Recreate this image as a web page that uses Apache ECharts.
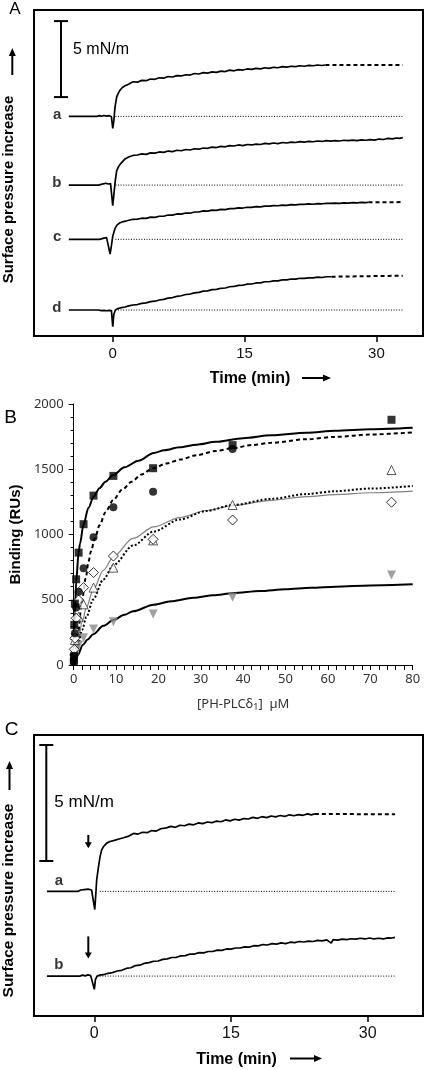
<!DOCTYPE html>
<html><head><meta charset="utf-8">
<script src="https://cdn.jsdelivr.net/npm/echarts@6/dist/echarts.min.js"></script>
<style>html,body{margin:0;padding:0;background:#fff}#c{width:425px;height:1070px}</style>
</head><body><div id="c"></div>
<script>
// ===================== DATA =====================
// Panel A / C shared
const timeTicks = [0, 15, 30];
const traceLabelsA = ['a', 'b', 'c', 'd'];
const traceLabelsC = ['a', 'b'];
const scaleBarValue = 5; // mN/m

// Panel A traces: [time (min), surface pressure increase (mN/m)]
const traceA_a = [[-5,0],[-1.8,0],[-1.5,0.05],[-1.25,0.01],[-1.0,0.06],[-0.7,0.02],[-0.4,0.05],[-0.15,-0.03],[0,-0.79],[0.12,-0.3],[0.26,0.63],[0.45,1.29],[0.65,1.55],[0.83,1.73],[1.1,1.9],[1.4,2.01],[1.8,2.12],[2.3,2.28],[2.8,2.25],[3.3,2.37],[3.8,2.35],[4.3,2.46],[4.8,2.44],[5.3,2.54],[5.8,2.52],[6.3,2.62],[6.8,2.59],[7.3,2.68],[7.8,2.66],[8.3,2.74],[8.8,2.72],[9.3,2.82],[9.8,2.79],[10.3,2.88],[10.8,2.85],[11.3,2.93],[11.8,2.9],[12.3,2.98],[12.8,2.95],[13.3,3.04],[13.8,3.0],[14.3,3.08],[14.8,3.05],[15.3,3.12],[15.8,3.09],[16.3,3.16],[16.8,3.13],[17.3,3.2],[17.8,3.16],[18.3,3.23],[18.8,3.2],[19.3,3.27],[19.8,3.24],[20.3,3.3],[20.8,3.27],[21.3,3.33],[21.8,3.3],[22.3,3.36],[22.8,3.33],[23.3,3.38],[23.8,3.35],[24.2,3.38]];
const traceA_b = [[-5,0],[-1.6,0],[-1.4,0.1],[-1.1,0.08],[-0.8,0.12],[-0.5,0.07],[-0.25,0.1],[-0.1,0.02],[0,-1.36],[0.15,-0.5],[0.3,0.35],[0.45,0.95],[0.65,1.2],[0.85,1.38],[1.05,1.45],[1.4,1.72],[1.8,1.85],[2.3,1.95],[2.8,1.98],[3.3,2.05],[3.8,2.02],[4.3,2.12],[4.8,2.1],[5.3,2.18],[5.8,2.15],[6.3,2.24],[6.8,2.2],[7.3,2.29],[7.8,2.26],[8.3,2.34],[8.8,2.31],[9.3,2.39],[9.8,2.36],[10.3,2.44],[10.8,2.42],[11.3,2.5],[11.8,2.47],[12.3,2.55],[12.8,2.52],[13.3,2.6],[13.8,2.57],[14.3,2.64],[14.8,2.6],[15.3,2.67],[15.8,2.64],[16.3,2.7],[16.8,2.67],[17.3,2.74],[17.8,2.71],[18.3,2.77],[18.8,2.73],[19.3,2.8],[19.8,2.77],[20.3,2.83],[20.8,2.8],[21.3,2.86],[21.8,2.83],[22.3,2.88],[22.8,2.85],[23.3,2.9],[23.8,2.87],[24.3,2.92],[24.8,2.89],[25.3,2.93],[25.8,2.9],[26.3,2.95],[26.8,2.92],[27.3,2.96],[27.8,2.93],[28.3,2.97],[28.8,2.95],[29.3,2.99],[29.8,2.96],[30.3,3.03],[30.8,3.0],[31.3,3.07],[31.8,3.04],[32.3,3.1],[32.6,3.07],[33,3.12]];
const traceA_c = [[-5,0],[-1.5,0],[-1.3,0.1],[-1.0,0.08],[-0.7,0.11],[-0.5,0.05],[-0.3,-0.97],[-0.15,-0.4],[0,0.2],[0.26,0.72],[0.5,0.95],[0.83,1.09],[1.2,1.17],[1.6,1.22],[2.3,1.32],[2.8,1.33],[3.3,1.39],[3.8,1.38],[4.3,1.46],[4.8,1.45],[5.3,1.52],[5.8,1.52],[6.3,1.6],[6.8,1.59],[7.3,1.67],[7.8,1.66],[8.3,1.73],[8.8,1.72],[9.3,1.8],[9.8,1.8],[10.3,1.87],[10.8,1.86],[11.3,1.92],[11.8,1.91],[12.3,1.97],[12.8,1.96],[13.3,2.02],[13.8,2.02],[14.3,2.07],[14.8,2.06],[15.3,2.11],[15.8,2.1],[16.3,2.15],[16.8,2.14],[17.3,2.19],[17.8,2.18],[18.3,2.22],[18.8,2.21],[19.3,2.25],[19.8,2.24],[20.3,2.28],[20.8,2.27],[21.3,2.3],[21.8,2.3],[22.3,2.33],[22.8,2.31],[23.3,2.35],[23.8,2.34],[24.3,2.37],[24.8,2.36],[25.3,2.38],[25.8,2.37],[26.3,2.4],[26.8,2.38],[27.3,2.41],[27.8,2.4],[28.3,2.43],[28.8,2.42],[29.1,2.44]];
const traceA_d = [[-5,0],[-1.6,0],[-1.3,-0.04],[-1.0,-0.02],[-0.7,-0.05],[-0.4,-0.02],[-0.15,-0.04],[0,-1.1],[0.12,-0.3],[0.3,0.0],[0.6,0.1],[1.0,0.16],[1.4,0.2],[1.8,0.27],[2.3,0.33],[2.8,0.36],[3.3,0.44],[3.8,0.47],[4.3,0.55],[4.8,0.58],[5.3,0.66],[5.8,0.7],[6.3,0.78],[6.8,0.82],[7.3,0.9],[7.8,0.94],[8.3,1.02],[8.8,1.05],[9.3,1.13],[9.8,1.16],[10.3,1.24],[10.8,1.26],[11.3,1.34],[11.8,1.36],[12.3,1.43],[12.8,1.45],[13.3,1.53],[13.8,1.55],[14.3,1.62],[14.8,1.63],[15.3,1.7],[15.8,1.71],[16.3,1.78],[16.8,1.79],[17.3,1.86],[17.8,1.86],[18.3,1.92],[18.8,1.92],[19.3,1.98],[19.8,1.98],[20.3,2.04],[20.8,2.03],[21.3,2.09],[21.8,2.08],[22.3,2.12],[22.8,2.11],[23.3,2.16],[23.8,2.14],[24.3,2.19],[24.9,2.19]];
// extrapolated (dashed) ends
const extA_a = [[24.2,3.38],[33,3.38]];
const extA_c = [[29.1,2.44],[33,2.45]];
const extA_d = [[24.9,2.19],[33,2.26]];
const baselineA = [[0.3,0],[33,0]];

// Panel C traces
const traceC_a = [[-5.2,0],[-1.8,0],[-1.5,0.06],[-1.3,0.02],[-1.1,0.08],[-0.9,0.05],[-0.7,0.1],[-0.5,0.04],[-0.3,0.06],[-0.1,0.0],[0.05,-0.78],[0.15,-0.2],[0.26,0.5],[0.45,1.05],[0.63,1.5],[0.8,1.78],[1.0,1.93],[1.36,2.08],[1.72,2.15],[2.2,2.2],[2.7,2.26],[3.2,2.31],[3.7,2.37],[4.3,2.5],[4.8,2.47],[5.3,2.55],[5.8,2.53],[6.3,2.62],[6.8,2.6],[7.3,2.7],[7.9,2.74],[8.4,2.8],[8.9,2.76],[9.4,2.85],[9.9,2.83],[10.4,2.9],[10.9,2.87],[11.4,2.95],[11.9,2.92],[12.4,2.99],[12.9,2.96],[13.4,3.03],[13.9,3.0],[14.4,3.08],[14.9,3.04],[15.4,3.11],[15.9,3.07],[16.4,3.14],[16.9,3.12],[17.4,3.19],[17.9,3.15],[18.4,3.22],[18.9,3.18],[19.4,3.25],[19.9,3.21],[20.4,3.27],[20.9,3.23],[21.4,3.3],[21.9,3.26],[22.4,3.31],[22.9,3.28],[23.4,3.34],[23.8,3.3],[24.2,3.34]];
const traceC_b = [[-5.2,0],[-1.6,0],[-1.3,0.04],[-1.0,0.01],[-0.7,0.05],[-0.4,0.02],[-0.2,0.03],[0,-0.57],[0.12,-0.15],[0.3,0.0],[0.6,0.04],[1.0,0.06],[1.5,0.12],[2.0,0.15],[2.5,0.22],[3.0,0.25],[3.5,0.33],[4.0,0.36],[4.5,0.45],[5.0,0.47],[5.5,0.55],[6.0,0.58],[6.5,0.64],[7.0,0.65],[7.5,0.72],[8.0,0.74],[8.5,0.8],[9.0,0.81],[9.5,0.87],[10.0,0.88],[10.5,0.95],[11.0,0.95],[11.5,1.01],[12.0,1.0],[12.5,1.06],[13.0,1.06],[13.5,1.12],[14.0,1.11],[14.5,1.17],[15.0,1.16],[15.5,1.21],[16.0,1.21],[16.5,1.26],[17.0,1.25],[17.5,1.31],[18.0,1.3],[18.5,1.36],[19.0,1.34],[19.5,1.4],[20.0,1.38],[20.5,1.43],[21.0,1.4],[21.5,1.46],[22.0,1.44],[22.5,1.49],[23.0,1.47],[23.5,1.51],[24.0,1.49],[24.5,1.54],[25.0,1.52],[25.5,1.56],[26.0,1.42],[26.2,1.57],[26.7,1.55],[27.2,1.59],[27.7,1.57],[28.2,1.61],[28.7,1.59],[29.2,1.63],[29.7,1.6],[30.2,1.64],[30.7,1.6],[31.2,1.63],[31.7,1.6],[32.2,1.65],[32.6,1.64],[33,1.67]];
const extC_a = [[24.2,3.34],[33,3.32]];
const baselineC = [[0.6,0],[33,0]];
const injectionTimeC = -0.66;

// Panel B: binding (RUs) vs [PH-PLCd1] (uM)
const squaresB = [[0.0366,25],[0.073,64],[0.146,307],[0.293,470],[0.586,657],[1.17,861],[2.34,1079],[4.69,1298],[9.375,1449],[18.75,1508],[37.5,1685],[75,1879]];
const circlesB = [[0.073,25],[0.146,70],[0.293,243],[0.586,440],[1.17,562],[2.34,741],[4.69,979],[9.375,1208],[18.75,1328],[37.5,1655]];
const diamondsB = [[0.146,120],[0.293,205],[0.586,358],[1.17,498],[2.34,593],[4.69,708],[9.375,835],[18.75,963],[37.5,1111],[75,1247]];
const trianglesB = [[0.146,110],[0.293,192],[0.586,268],[1.17,370],[2.34,465],[4.69,593],[9.375,746],[18.75,955],[37.5,1226],[75,1494]];
const grayTrianglesB = [[0.146,60],[0.293,90],[0.586,110],[1.17,153],[2.34,209],[4.69,276],[9.375,332],[18.75,391],[37.5,519],[75,690]];
// fitted curves
const fitSquaresB = [[0,0],[0.15,220],[0.3,400],[0.6,640],[1.17,861],[1.5,930],[2.3,1073],[3.5,1205],[4.7,1290],[6.1,1355],[7.5,1405],[9.33,1455],[12,1515],[15.3,1565],[18.9,1625],[21.4,1645],[25,1668],[29,1688],[33.6,1710],[40,1738],[46.6,1760],[55,1780],[61.8,1795],[70,1807],[80,1818]];
const fitCirclesB = [[0,0],[0.5,120],[1,240],[2,500],[2.84,664],[3.5,790],[4.07,870],[5,970],[6.1,1070],[7.5,1170],[9.33,1264],[11.5,1345],[13.7,1405],[16,1460],[18.7,1507],[22,1545],[25.2,1575],[29,1608],[33.6,1640],[37.6,1662],[42,1685],[46.6,1703],[55,1730],[61.8,1748],[70,1766],[80,1783]];
const fitDiamondsB = [[0,0],[0.5,95],[1,181],[2,330],[3,440],[4.6,575],[7,725],[9.4,831],[14,970],[18.9,1058],[25,1130],[31.3,1184],[37.6,1222],[46.6,1262],[55,1290],[61.8,1306],[70,1320],[80,1333]];
const fitTrianglesB = [[0,0],[0.5,77],[1,147],[2,268],[3,368],[4.6,502],[7,655],[9.4,765],[14,915],[18.9,1023],[25,1115],[31.3,1180],[37.6,1226],[46.6,1273],[55,1310],[61.8,1332],[70,1352],[80,1372]];
const fitGrayB = [[0,0],[0.5,38],[1,77],[2.15,153],[3.3,195],[4.6,235],[7,300],[9.4,345],[12,385],[14,412],[18.9,462],[23,488],[28.3,515],[33,535],[37.6,550],[44,567],[50,580],[56,591],[61.8,600],[70,610],[80,618]];

// ===================== LAYOUT (positions / styles) =====================
const FONT = 'Liberation Sans, Arial, sans-serif';
const FONTB = 'Noto Sans, Open Sans, sans-serif';
const offsetsA = [14.45, 9.93, 6.36, 1.71];   // vertical stacking of traces in A (mN/m)
const offsetsC = [5.37, 1.72];                // vertical stacking in C

const chart = echarts.init(document.getElementById('c'), null, {renderer: 'canvas'});

function shift(arr, off) { return arr.map(p => [p[0], p[1] + off]); }
function traceSeries(data, off, ai) {
  return {type: 'line', xAxisIndex: ai, yAxisIndex: ai, data: shift(data, off), symbol: 'none',
    lineStyle: {color: '#000', width: 1.7}, silent: true, z: 3};
}
function extSeries(data, off, ai) {
  return {type: 'line', xAxisIndex: ai, yAxisIndex: ai, data: shift(data, off), symbol: 'none',
    lineStyle: {color: '#000', width: 2, type: [4, 3]}, silent: true, z: 3};
}
function baseSeries(data, off, ai) {
  return {type: 'line', xAxisIndex: ai, yAxisIndex: ai, data: shift(data, off), symbol: 'none',
    lineStyle: {color: '#000', width: 1, type: [1, 1.6]}, silent: true, z: 2};
}
function scaleBar(ai, x, y0, len, cap, ldx, ldy, fs) {
  return {type: 'custom', xAxisIndex: ai, yAxisIndex: ai, data: [[x, y0, len]], silent: true, z: 4,
    renderItem: function (params, api) {
      const p1 = api.coord([api.value(0), api.value(1)]);
      const p2 = api.coord([api.value(0), api.value(1) + api.value(2)]);
      const st = {stroke: '#000', lineWidth: 2};
      return {type: 'group', children: [
        {type: 'line', shape: {x1: p1[0], y1: p1[1], x2: p2[0], y2: p2[1]}, style: st},
        {type: 'line', shape: {x1: p1[0] - cap, y1: p1[1], x2: p1[0] + cap, y2: p1[1]}, style: st},
        {type: 'line', shape: {x1: p2[0] - cap, y1: p2[1], x2: p2[0] + cap, y2: p2[1]}, style: st},
        {type: 'text', x: p2[0] + ldx, y: p2[1] + ldy, style: {text: api.value(2) + ' mN/m', fontSize: fs,
          fontFamily: FONT, fill: '#000', align: 'left', verticalAlign: 'middle'}}
      ]};
    }};
}
function downArrows(ai, data) {
  return {type: 'custom', xAxisIndex: ai, yAxisIndex: ai, data: data, silent: true, z: 4,
    renderItem: function (params, api) {
      const a = api.coord([api.value(0), api.value(1)]);
      const b = api.coord([api.value(0), api.value(2)]);
      return {type: 'group', children: [
        {type: 'line', shape: {x1: a[0], y1: a[1], x2: b[0], y2: b[1] - 5}, style: {stroke: '#000', lineWidth: 2}},
        {type: 'polygon', shape: {points: [[b[0] - 3.5, b[1] - 6], [b[0] + 3.5, b[1] - 6], [b[0], b[1]]]}, style: {fill: '#000'}}
      ]};
    }};
}
function labelSeries(ai, names, t, offs, pos, dist, offset) {
  return {type: 'scatter', xAxisIndex: ai, yAxisIndex: ai, symbolSize: 1, silent: true, z: 5,
    itemStyle: {color: 'transparent'},
    data: names.map((n, i) => ({name: n, value: [t, offs[i]]})),
    label: {show: true, formatter: '{b}', position: pos, distance: dist, offset: offset,
      fontWeight: 'bold', fontSize: 15, color: '#000', fontFamily: FONT}};
}

function timeAxis(gi, min, max, fs) {
  return {gridIndex: gi, type: 'value', min: min, max: max,
    axisLine: {show: true, onZero: false, lineStyle: {color: '#000', width: 2}},
    axisTick: {show: true, customValues: timeTicks, length: 6, lineStyle: {color: '#000', width: 1.5}},
    axisLabel: {customValues: timeTicks, fontSize: fs, color: '#111', margin: 10, fontFamily: FONT},
    splitLine: {show: false}};
}

function hArrow(x1, x2, y) {
  return [
    {type: 'line', shape: {x1: x1, y1: y, x2: x2 - 6, y2: y}, style: {stroke: '#000', lineWidth: 2}},
    {type: 'polygon', shape: {points: [[x2 - 8, y - 3.5], [x2 - 8, y + 3.5], [x2, y]]}, style: {fill: '#000'}}
  ];
}
function vArrowUp(x, y1, y2) {
  return [
    {type: 'line', shape: {x1: x, y1: y1, x2: x, y2: y2 + 6}, style: {stroke: '#000', lineWidth: 2}},
    {type: 'polygon', shape: {points: [[x - 3.5, y2 + 8], [x + 3.5, y2 + 8], [x, y2]]}, style: {fill: '#000'}}
  ];
}
function txt(x, y, s, size, weight, rot, family) {
  return {type: 'text', x: x, y: y, rotation: rot || 0,
    style: {text: s, fontSize: size, fontWeight: weight || 'normal', fontFamily: family || FONT, fill: '#000',
      align: 'center', verticalAlign: 'middle'}};
}

const series = [];
// ---- Panel A ----
[traceA_a, traceA_b, traceA_c, traceA_d].forEach((d, i) => series.push(traceSeries(d, offsetsA[i], 0)));
[traceA_a, traceA_b, traceA_c, traceA_d].forEach((d, i) => series.push(baseSeries(baselineA, offsetsA[i], 0)));
series.push(extSeries(extA_a, offsetsA[0], 0));
series.push(extSeries(extA_c, offsetsA[2], 0));
series.push(extSeries(extA_d, offsetsA[3], 0));
series.push(scaleBar(0, -5.89, 15.72, scaleBarValue, 7, 12, 28, 16));
series.push(labelSeries(0, traceLabelsA, -5, offsetsA, 'left', 7, [0, -2]));
// ---- Panel C ----
[traceC_a, traceC_b].forEach((d, i) => series.push(traceSeries(d, offsetsC[i], 2)));
[traceC_a, traceC_b].forEach((d, i) => series.push(baseSeries(baselineC, offsetsC[i], 2)));
series.push(extSeries(extC_a, offsetsC[0], 2));
series.push(scaleBar(2, -5.27, 6.68, scaleBarValue, 7, 8, 57, 17));
series.push(downArrows(2, [[injectionTimeC, offsetsC[0] + 2.43, offsetsC[0] + 1.86], [injectionTimeC, offsetsC[1] + 1.71, offsetsC[1] + 0.76]]));
series.push(labelSeries(2, traceLabelsC, -5.2, offsetsC, 'top', 3, [12, 0]));
// ---- Panel B ----
const fitLine = (d, style) => ({type: 'line', xAxisIndex: 1, yAxisIndex: 1, data: d, symbol: 'none',
  smooth: 0.3, smoothMonotone: 'x', lineStyle: style, silent: true, z: 2});
series.push(fitLine(fitGrayB, {color: '#000', width: 2}));
series.push(fitLine(fitDiamondsB, {color: '#808080', width: 1.2}));
series.push(fitLine(fitTrianglesB, {color: '#000', width: 2, type: [2, 2]}));
series.push(fitLine(fitCirclesB, {color: '#000', width: 2, type: [4, 3]}));
series.push(fitLine(fitSquaresB, {color: '#000', width: 2}));
const pts = (d, sym, size, style, rot) => ({type: 'scatter', xAxisIndex: 1, yAxisIndex: 1, data: d, symbol: sym,
  symbolSize: size, symbolRotate: rot || 0, itemStyle: style, silent: true, z: 4});
series.push(pts(grayTrianglesB, 'triangle', 9, {color: '#8a8a8a'}, 180));
series.push(pts(trianglesB, 'triangle', 9, {color: '#fff', borderColor: '#333', borderWidth: 1}));
series.push(pts(diamondsB, 'diamond', 10, {color: '#fff', borderColor: '#000', borderWidth: 1}));
series.push(pts(circlesB, 'circle', 8, {color: '#000'}));
series.push(pts(squaresB, 'rect', 8, {color: '#000'}));

const option = {
  backgroundColor: '#fff',
  animation: false,
  grid: [
    {left: 34, top: 10, width: 389, height: 326, show: true, borderColor: '#000', borderWidth: 2, backgroundColor: 'transparent'},
    {left: 63.3, top: 404, width: 349.4, height: 261, show: false},
    {left: 34, top: 735, width: 389, height: 281, show: true, borderColor: '#000', borderWidth: 2, backgroundColor: 'transparent'}
  ],
  xAxis: [
    timeAxis(0, -8.96, 35.3, 15),
    {gridIndex: 1, type: 'value', min: 0, max: 80, interval: 10,
      axisLine: {show: true, onZero: false, lineStyle: {color: '#000', width: 1}},
      axisTick: {show: true, length: 5, lineStyle: {color: '#000', width: 1}},
      minorTick: {show: true, splitNumber: 5, length: 5, lineStyle: {color: '#000', width: 1}},
      axisLabel: {fontSize: 13, color: '#333', margin: 8, fontFamily: FONTB, formatter: v => String(v)},
      splitLine: {show: false},
      name: '[PH-PLCδ{sub|1}]  µM', nameLocation: 'middle', nameGap: 31,
      nameTextStyle: {fontSize: 13, color: '#333', fontFamily: FONTB, lineHeight: 16,
        rich: {sub: {fontSize: 9, lineHeight: 16, verticalAlign: 'bottom', color: '#333', fontFamily: FONTB, padding: [6, 0, 0, 0]}}}},
    timeAxis(2, -6.62, 36.07, 16)
  ],
  yAxis: [
    {gridIndex: 0, type: 'value', min: 0, max: 21.45, show: false},
    {gridIndex: 1, type: 'value', min: 0, max: 2000, interval: 500,
      axisLine: {show: true, lineStyle: {color: '#000', width: 1}},
      axisTick: {show: true, length: 5, lineStyle: {color: '#000', width: 1}},
      minorTick: {show: true, splitNumber: 5, length: 3, lineStyle: {color: '#000', width: 1}},
      axisLabel: {fontSize: 13, color: '#333', margin: 10, fontFamily: FONTB, formatter: v => String(v)},
      splitLine: {show: false},
      name: 'Binding (RUs)', nameLocation: 'middle', nameGap: 50,
      nameTextStyle: {fontSize: 15, fontWeight: 'bold', color: '#000', fontFamily: FONT}},
    {gridIndex: 2, type: 'value', min: 0, max: 12.11, show: false}
  ],
  graphic: [].concat(
    [txt(15, 9.5, 'A', 17)],
    [txt(10.5, 418, 'B', 19)],
    [txt(11.5, 730, 'C', 19)],
    [txt(9, 189.5, 'Surface pressure increase', 15, 'bold', Math.PI / 2)],
    vArrowUp(12.3, 75, 48),
    [txt(8.5, 900.5, 'Surface pressure increase', 15.5, 'bold', Math.PI / 2)],
    vArrowUp(9.5, 790, 761),
    [txt(250, 379, 'Time (min)', 16, 'bold')],
    hArrow(302, 331, 378),
    [txt(236.5, 1060, 'Time (min)', 16, 'bold')],
    hArrow(290, 322, 1058.5)
  ),
  series: series
};
chart.setOption(option);
</script></body></html>
